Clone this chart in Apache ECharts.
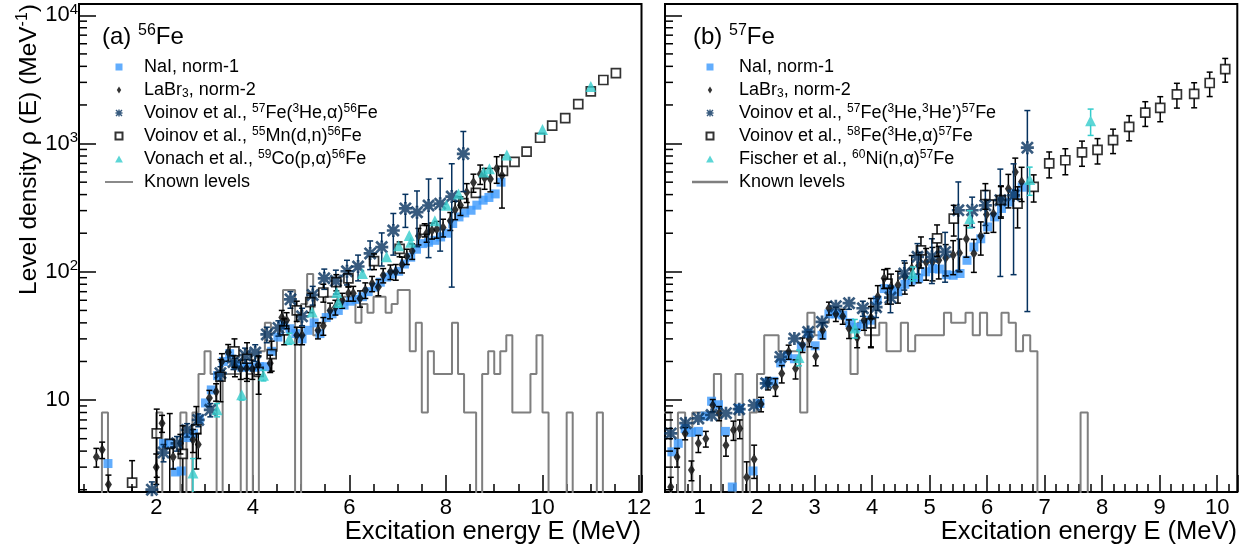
<!DOCTYPE html>
<html><head><meta charset="utf-8">
<script src="https://cdn.jsdelivr.net/npm/echarts@6/dist/echarts.min.js"></script>
<style>html,body{margin:0;padding:0;background:#fff}#c{width:1250px;height:550px}</style>
</head><body><div id="c"></div>
<script>
// ---------------- DATA: (a) 56Fe ----------------
const fe56NaI_E   = [0.76,1.00,2.15,2.27,2.40,2.52,2.64,2.77,2.89,3.02,3.14,3.27,3.39,3.52,3.64,3.77,3.89,4.02,4.14,4.27,4.39,4.52,4.64,4.77,4.89,5.02,5.14,5.27,5.39,5.52,5.64,5.77,5.89,6.02,6.14,6.27,6.39,6.52,6.64,6.77,6.89,7.02,7.14,7.27,7.39,7.52,7.64,7.77,7.89,8.02,8.14,8.27,8.39,8.52,8.64,8.77,8.89,9.02,9.14];
const fe56NaI_rho = [1.9,3.2,4.6,4.6,2.75,2.8,5.1,5.5,7.1,9.5,12,15.5,20,23,19,18,18.2,18,18.2,18.2,24,31,38,36,33,30,35,40,33,44,47,50,55,59,61,64,70,76,83,91,96,101,115,130,150,166,170,176,187,200,238,268,288,302,331,362,380,405,500];

const fe56LaBr_E   = [0.76,0.88,1.01,2.00,2.12,2.35,2.50,2.76,2.87,3.10,3.24,3.36,3.49,3.63,3.75,3.87,3.99,4.11,4.36,4.60,4.70,4.91,5.02,5.35,5.46,5.60,5.71,5.85,5.98,6.08,6.22,6.33,6.47,6.60,6.70,6.85,6.96,7.09,7.19,7.30,7.43,7.60,7.71,7.81,7.94,8.09,8.19,8.30,8.43,8.57,8.71,8.80,8.92,9.05,9.16];
const fe56LaBr_rho = [3.6,4.1,2.2,3.0,6.6,3.6,4.6,4.9,4.5,10.4,11.6,20,23.6,18.2,17.5,17.7,17.5,18.8,19.4,44,42,32,32,35,38,50,53,60,68,68,62,72,81,76,94,100,100,114,132,145,190,200,210,215,222,250,305,330,417,497,580,540,530,640,564];
const fe56LaBr_err = [0.6,0.6,0.4,0.8,1.0,0.7,0.8,1.0,1.0,1.5,1.8,3,3.5,3,3,3,3,3,3,6,6,5,5,5,6,7,7,8,9,9,9,10,11,11,12,13,14,16,18,20,28,30,30,32,35,40,50,55,70,80,100,100,110,150,250];

const fe56V3He_E   = [1.91,2.15,2.43,2.64,2.87,3.12,3.33,3.60,3.84,4.05,4.29,4.53,4.78,5.02,5.24,5.48,5.72,5.95,6.18,6.43,6.67,6.91,7.16,7.40,7.64,7.88,8.12,8.36];
const fe56V3He_rho = [2.0,3.9,4.6,5.85,7.0,8.4,16.2,19.8,22.4,23.5,32.5,36.5,61,45,66,89,85,101,110,139,156,210,312,292,329,340,386,832];
const fe56V3He_err = [0.3,0.6,0.6,0.7,0.8,1.0,2.0,2.5,3,3.5,4.5,5,9,7,11,16,18,22,25,35,45,75,90,135,200,195,310,410];

const fe56Vdn_E   = [1.50,2.01,2.28,2.55,2.83,3.33,3.62,3.88,4.12,4.39,4.65,4.91,5.19,5.46,5.73,5.98,6.51,7.04,7.56,8.36,8.62,9.18,9.42,9.67,9.95,10.20,10.47,10.74,11.00,11.26,11.52];
const fe56Vdn_rho = [2.27,5.5,4.55,3.8,5.9,15.2,24,21,16.6,22.8,35,50,58,69,83,89,121,151,212,343,413,612,720,865,1110,1380,1580,2030,2550,3130,3540];
const fe56Vdn_err = [1.1,3,3.3,2.5,3,5.5,6,7,5.5,6,8,9,10,11,12,13,17,20,25,30,25,30,30,35,40,50,60,70,90,100,120];

const fe56Von_E   = [2.76,3.26,3.77,4.22,4.76,5.23,5.74,5.77,6.27,6.77,7.02,7.24,7.27,7.77,8.01,8.26,8.78,8.90,9.26,10.00,11.00];
const fe56Von_rho = [2.7,8.4,11.0,15.6,30.2,48.7,69,58,97,131,160,192,170,250,330,405,600,635,815,1290,2780];
const fe56Von_err = [0.8,1.0,1.0,1.5,3,4,5,5,8,10,12,14,12,18,22,28,40,40,50,70,150];

// known levels, density per 0.125 MeV bin, first bin starts at 0.75 MeV
const fe56Lvl_start = 0.75, fe56Lvl_width = 0.125;
const fe56Lvl_rho = [0,8,0,0,0,0,0,0,0,0, 8,0,0,0,8,0,8,16,24,16, 0,16,16,16,0,16,0,24,40,24, 32,72,72,0,56,96,32,40,64,64, 56,64,64,40,56,48,64,64,48,56, 72,72,24,40,8,24,16,16,16,40, 16,8,8,0,16,24,16,24,32,8, 8,8,16,32,8,0,0,0,8,0, 0,0,0,8,0];

// ---------------- DATA: (b) 57Fe ----------------
const fe57NaI_E   = [0.52,0.63,0.75,0.86,0.98,1.10,1.21,1.33,1.45,1.57,1.69,1.93,2.05,2.17,2.29,2.41,2.53,2.65,2.77,2.89,3.01,3.13,3.25,3.37,3.49,3.61,3.73,3.85,3.97,4.09,4.21,4.33,4.45,4.57,4.69,4.81,4.93,5.05,5.17,5.29,5.41,5.53,5.65,5.77,5.89,6.01,6.13,6.25,6.37,6.49,6.61];
const fe57NaI_rho = [3.95,4.6,6.0,5.6,5.7,7.5,9.8,9.2,5.7,2.1,8.6,2.8,9.4,13.7,14,19.5,22,21,26,33,26.5,32,47,47,46,40,37,39,42,60,74,72,70,80,86,89,100,106,105,95,94,97,123,156,181,224,268,312,350,407,457];

const fe57LaBr_E   = [0.50,0.61,0.75,0.86,0.98,1.11,1.23,1.34,1.46,1.59,1.70,1.82,1.95,2.07,2.19,2.32,2.43,2.55,2.67,2.79,2.91,3.02,3.14,3.25,3.37,3.49,3.60,3.74,3.86,3.98,4.10,4.21,4.33,4.45,4.57,4.69,4.81,4.94,5.05,5.16,5.28,5.41,5.52,5.64,5.77,5.89,5.99,6.11,6.24,6.37,6.49,6.60];
const fe57LaBr_rho = [2.1,3.6,5.5,2.85,4.6,5.0,9.1,7.9,4.45,5.85,6.0,2.5,3.45,9.3,13.5,12.7,16.1,23.8,17.6,27,30,22,35,52,47,45,36.2,30.6,42,44,64,89,76,79,92,106,112,119,120,123,128,135,140,180,139,190,280,283,368,445,600,503];
const fe57LaBr_err = [0.4,0.6,0.6,0.5,0.7,0.7,1.0,1.0,0.8,1.0,1.0,0.8,1.0,1.2,1.5,2.0,2.5,3.0,3.0,3.5,4,3.5,5,6,6,6,6,5,7,18,14,15,20,22,25,28,30,33,35,35,35,40,40,50,40,55,80,80,100,130,170,150];

const fe57V3He_E   = [0.50,0.76,0.98,1.21,1.46,1.69,1.95,2.16,2.41,2.65,2.89,3.13,3.37,3.60,3.84,4.07,4.32,4.56,4.79,5.04,5.27,5.50,5.74,5.97,6.23,6.46,6.70];
const fe57V3He_rho = [5.5,6.6,7.2,7.65,7.9,8.5,9.1,13.5,21.7,30.2,34,40.7,54,57,52,53,63,97,131,131,143,302,302,330,362,395,929];
const fe57V3He_err = [0.4,0.5,0.5,0.5,0.5,0.6,0.6,1.0,1.5,2.5,3,4,5,6,7,9,15,25,35,50,60,200,80,100,270,300,880];

const fe57Va_E   = [3.98,4.27,4.85,5.13,5.42,5.97,6.24,6.53,6.81,7.08,7.36,7.65,7.92,8.19,8.47,8.75,9.01,9.30,9.60,9.87,10.14];
const fe57Va_rho = [39.6,81,147,182,260,397,362,340,460,700,741,855,893,1065,1350,1740,1900,2420,2440,2965,3810];
const fe57Va_err = [14,25,40,50,70,90,100,120,110,160,170,190,200,230,300,380,420,530,540,640,800];

const fe57Fis_E   = [2.73,3.70,4.71,5.70,6.74,7.80];
const fe57Fis_rho = [21.5,36.5,97,260,525,1507];
const fe57Fis_err = [3,6,12,40,130,350];

const fe57Lvl_start = 0.375, fe57Lvl_width = 0.125;
const fe57Lvl_rho = [8,0,8,0,8,8,8,16,0,0, 16,0,8,16,32,32,24,24,24,8, 48,32,40,48,48,40,16,40,32,32, 40,24,24,40,24,32,32,32,32,48, 40,40,48,32,48,32,32,48,40,24, 32,24,0,0,0,0,0,0,8,0];

// ---------------- AXES / TICKS ----------------
const xRangeA = [0.4, 12.05], xRangeB = [0.4, 10.35];
const yRange = [1.92, 12250];
const yMinorTicks = [2,3,4,5,6,7,8,9,20,30,40,50,60,70,80,90,200,300,400,500,600,700,800,900,2000,3000,4000,5000,6000,7000,8000,9000];

const legendA = {
  a1: 'NaI, norm-1',
  a2: 'LaBr{sub|3}, norm-2',
  a3: 'Voinov et al., {sup|57}Fe({sup|3}He,α){sup|56}Fe',
  a4: 'Voinov et al., {sup|55}Mn(d,n){sup|56}Fe',
  a5: 'Vonach et al., {sup|59}Co(p,α){sup|56}Fe',
  a6: 'Known levels'
};
const legendB = {
  b1: 'NaI, norm-1',
  b2: 'LaBr{sub|3}, norm-2',
  b3: 'Voinov et al., {sup|57}Fe({sup|3}He,{sup|3}He’){sup|57}Fe',
  b4: 'Voinov et al., {sup|58}Fe({sup|3}He,α){sup|57}Fe',
  b5: 'Fischer et al., {sup|60}Ni(n,α){sup|57}Fe',
  b6: 'Known levels'
};

// ---------------- STYLE ----------------
const FONT = "'Liberation Sans', Arial, Helvetica, sans-serif";
const C_NAI = '#3b99fc', C_V3 = '#06325f', C_CY = '#33cccc', C_LVL = '#7f7f7f';
const ASTER = 'path://M9.5 0H14.5V24H9.5Z M0 9.5H24V14.5H0Z M0 3.5L3.5 0L24 20.5L20.5 24Z M20.5 0L24 3.5L3.5 24L0 20.5Z';
const SQ = 'path://M0 0H10V10H0Z';
const DIAM = 'path://M5 0L10 8L5 16L0 8Z';
const TRI = 'path://M5 0L10 9L0 9Z';
const LINEICON = 'path://M0 0H40V2.6H0Z';
const FLOOR = 0.5;

function xy(E, R) { return E.map((e, i) => [e, R[i]]); }
function errData(E, R, Er) { return E.map((e, i) => [e, R[i], Math.max(R[i] - Er[i], 0.01), R[i] + Er[i]]); }
function histPts(x0, w, rho) {
  const p = [];
  rho.forEach((r, i) => { const y = r > 0 ? r : FLOOR; p.push([x0 + i * w, y], [x0 + (i + 1) * w, y]); });
  return p;
}
function errSeries(g, E, R, Er, color, gap, z) {
  return {
    type: 'custom', xAxisIndex: g, yAxisIndex: g, silent: true, clip: true, z: z,
    data: errData(E, R, Er), encode: {x: 0, y: [1, 2, 3]},
    renderItem: function (params, api) {
      const x = api.value(0);
      const c = api.coord([x, api.value(1)]);
      const pl = api.coord([x, api.value(2)]);
      const ph = api.coord([x, api.value(3)]);
      const st = {stroke: color, lineWidth: 1.5};
      const ch = [];
      if (pl[1] > c[1] + gap + 1) {
        ch.push({type: 'line', shape: {x1: c[0], y1: c[1] + gap, x2: c[0], y2: pl[1]}, style: st});
        ch.push({type: 'line', shape: {x1: c[0] - 3, y1: pl[1], x2: c[0] + 3, y2: pl[1]}, style: st});
      }
      if (ph[1] < c[1] - gap - 1) {
        ch.push({type: 'line', shape: {x1: c[0], y1: c[1] - gap, x2: c[0], y2: ph[1]}, style: st});
        ch.push({type: 'line', shape: {x1: c[0] - 3, y1: ph[1], x2: c[0] + 3, y2: ph[1]}, style: st});
      }
      return {type: 'group', children: ch};
    }
  };
}
function sc(g, name, E, R, symbol, size, style, z) {
  return {type: 'scatter', name: name, xAxisIndex: g, yAxisIndex: g, data: xy(E, R), symbol: symbol,
          symbolSize: size, itemStyle: style, z: z, silent: true, clip: true};
}
function minorY(g, xmin) {
  return {type: 'custom', xAxisIndex: g, yAxisIndex: g, silent: true, clip: false, z: 20,
    data: yMinorTicks.map(v => [xmin, v]),
    renderItem: function (params, api) {
      const c = api.coord([api.value(0), api.value(1)]);
      return {type: 'line', shape: {x1: c[0], y1: c[1], x2: c[0] + 8, y2: c[1]}, style: {stroke: '#000', lineWidth: 1.5}};
    }};
}
function mkX(g, rng, split, minorSplit) {
  return {type: 'value', gridIndex: g, min: rng[0], max: rng[1], splitNumber: split,
    axisLine: {show: false}, splitLine: {show: false},
    axisTick: {show: true, inside: true, length: 17, lineStyle: {color: '#000', width: 1.5}},
    minorTick: {show: true, splitNumber: minorSplit, length: 8, lineStyle: {color: '#000', width: 1.5}},
    axisLabel: {margin: 5, fontSize: 22, fontFamily: FONT, color: '#000',
      formatter: v => (Math.abs(v - Math.round(v)) < 1e-6 ? String(Math.round(v)) : '')}};
}
function mkY(g, labels) {
  return {type: 'log', logBase: 10, gridIndex: g, min: yRange[0], max: yRange[1],
    axisLine: {show: false}, splitLine: {show: false}, minorTick: {show: false},
    axisTick: {show: true, inside: true, length: 17, lineStyle: {color: '#000', width: 1.5}},
    axisLabel: {show: labels, margin: 1, fontSize: 22, lineHeight: 26, fontFamily: FONT, color: '#000',
      formatter: v => {
        const e = Math.log10(v);
        if (Math.abs(e - Math.round(e)) > 1e-6) return '';
        const n = Math.round(e);
        return n === 1 ? '10{ph| }' : '10{sup|' + n + '}';
      },
      rich: {sup: {fontSize: 15, lineHeight: 12, verticalAlign: 'top', fontFamily: FONT, color: '#000'},
             ph: {width: 8, fontSize: 15}}}};
}
const legRich = {
  sup: {fontSize: 12, lineHeight: 10, verticalAlign: 'top', fontFamily: FONT, color: '#000'},
  sub: {fontSize: 12, lineHeight: 10, verticalAlign: 'bottom', fontFamily: FONT, color: '#000'},
  p: {width: 6, fontSize: 18}
};
function mkLegend(left, width, map, names) {
  return {show: true, orient: 'vertical', left: left, top: 57, padding: 0, itemGap: 3,
    itemWidth: width, itemHeight: 7, selectedMode: false, symbolKeepAspect: true,
    data: [{name: names[0], icon: SQ}, {name: names[1], icon: DIAM}, {name: names[2], icon: ASTER},
           {name: names[3], icon: SQ}, {name: names[4], icon: TRI}, {name: names[5], icon: LINEICON}],
    formatter: n => '{p| }' + map[n],
    textStyle: {fontSize: 18, lineHeight: 20, fontFamily: FONT, color: '#000', rich: legRich}};
}

function panelSeries(g, k, d) {
  return [
    {type: 'line', name: k + '6', xAxisIndex: g, yAxisIndex: g, data: histPts(d.l0, d.lw, d.lvl), symbol: 'none',
     lineStyle: {color: C_LVL, width: 2}, itemStyle: {color: C_LVL}, clip: true, z: 1, silent: true},
    sc(g, k + '1', d.naiE, d.naiR, 'rect', 9, {color: C_NAI}, 2),
    errSeries(g, d.labE, d.labR, d.labEr, '#000', 4, 3),
    sc(g, k + '2', d.labE, d.labR, DIAM, [7, 11], {color: '#000'}, 3),
    errSeries(g, d.v3E, d.v3R, d.v3Er, C_V3, 5, 4),
    sc(g, k + '3', d.v3E, d.v3R, ASTER, 13, {color: C_V3}, 4),
    errSeries(g, d.sqE, d.sqR, d.sqEr, '#000', 4.5, 5),
    sc(g, k + '4', d.sqE, d.sqR, 'rect', 9, {color: 'rgba(255,255,255,0)', borderColor: '#000', borderWidth: 1.7}, 5),
    errSeries(g, d.trE, d.trR, d.trEr, C_CY, 4, 6),
    sc(g, k + '5', d.trE, d.trR, 'triangle', 11, {color: C_CY}, 6)
  ];
}

const series = [].concat(
  panelSeries(0, 'a', {l0: fe56Lvl_start, lw: fe56Lvl_width, lvl: fe56Lvl_rho,
    naiE: fe56NaI_E, naiR: fe56NaI_rho, labE: fe56LaBr_E, labR: fe56LaBr_rho, labEr: fe56LaBr_err,
    v3E: fe56V3He_E, v3R: fe56V3He_rho, v3Er: fe56V3He_err, sqE: fe56Vdn_E, sqR: fe56Vdn_rho, sqEr: fe56Vdn_err,
    trE: fe56Von_E, trR: fe56Von_rho, trEr: fe56Von_err}),
  panelSeries(1, 'b', {l0: fe57Lvl_start, lw: fe57Lvl_width, lvl: fe57Lvl_rho,
    naiE: fe57NaI_E, naiR: fe57NaI_rho, labE: fe57LaBr_E, labR: fe57LaBr_rho, labEr: fe57LaBr_err,
    v3E: fe57V3He_E, v3R: fe57V3He_rho, v3Er: fe57V3He_err, sqE: fe57Va_E, sqR: fe57Va_rho, sqEr: fe57Va_err,
    trE: fe57Fis_E, trR: fe57Fis_rho, trEr: fe57Fis_err}),
  [minorY(0, xRangeA[0]), minorY(1, xRangeB[0])]
);

const titleRich = {sup: {fontSize: 16, lineHeight: 10, verticalAlign: 'top', fontFamily: FONT, fill: '#000'}};
const option = {
  animation: false,
  backgroundColor: '#fff',
  grid: [
    {left: 79, top: 4, width: 562.5, height: 488, show: true, borderColor: '#000', borderWidth: 2, backgroundColor: 'transparent'},
    {left: 665, top: 4, width: 572.3, height: 488, show: true, borderColor: '#000', borderWidth: 2, backgroundColor: 'transparent'}
  ],
  xAxis: [mkX(0, xRangeA, 5, 4), mkX(1, xRangeB, 10, 5)],
  yAxis: [mkY(0, true), mkY(1, false)],
  legend: [mkLegend(105, 28, legendA, ['a1','a2','a3','a4','a5','a6']),
           mkLegend(692, 36, legendB, ['b1','b2','b3','b4','b5','b6'])],
  graphic: [
    {type: 'text', x: 102, y: 23, silent: true, style: {text: '(a) {sup|56}Fe', fontSize: 24, lineHeight: 28, fontFamily: FONT, fill: '#000', verticalAlign: 'top', rich: titleRich}},
    {type: 'text', x: 693, y: 23, silent: true, style: {text: '(b) {sup|57}Fe', fontSize: 24, lineHeight: 28, fontFamily: FONT, fill: '#000', verticalAlign: 'top', rich: titleRich}},
    {type: 'text', x: 641, y: 532, silent: true, style: {text: 'Excitation energy E (MeV)', fontSize: 25.5, fontFamily: FONT, fill: '#000', align: 'right', verticalAlign: 'middle'}},
    {type: 'text', x: 1237, y: 532, silent: true, style: {text: 'Excitation energy E (MeV)', fontSize: 25.5, fontFamily: FONT, fill: '#000', align: 'right', verticalAlign: 'middle'}},
    {type: 'text', x: 29, y: 4, rotation: Math.PI / 2, silent: true, style: {text: 'Level density ρ (E) (MeV{sup|-1})', fontSize: 24.5, lineHeight: 28, fontFamily: FONT, fill: '#000', align: 'right', verticalAlign: 'middle', rich: {sup: {fontSize: 16, lineHeight: 10, verticalAlign: 'top', fontFamily: FONT, fill: '#000'}}}}
  ],
  series: series
};
const chart = echarts.init(document.getElementById('c'), null, {renderer: 'canvas'});
chart.setOption(option);
</script></body></html>
